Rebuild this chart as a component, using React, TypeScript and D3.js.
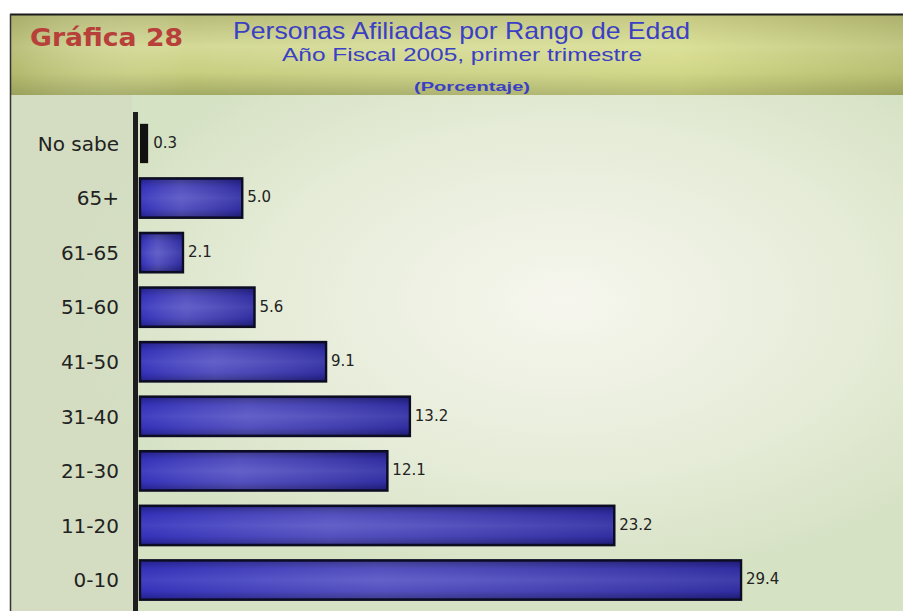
import React from "react";
import * as d3 from "d3";

const categories = ["No sabe", "65+", "61-65", "51-60", "41-50", "31-40", "21-30", "11-20", "0-10"];
const values = [0.3, 5.0, 2.1, 5.6, 9.1, 13.2, 12.1, 23.2, 29.4];
const valueLabels = ["0.3", "5.0", "2.1", "5.6", "9.1", "13.2", "12.1", "23.2", "29.4"];
const titleLines = ["Personas Afiliadas por Rango de Edad", "Año Fiscal 2005, primer trimestre", "(Porcentaje)"];
const chartTag = "Gráfica 28";

const W = 903;
const H = 611;

export default function App() {
  const x = d3.scaleLinear().domain([0, 29.4]).range([140, 741]);
  const y = d3.scaleBand<string>().domain(categories).range([116.2, 607.3]).paddingInner(0.28).paddingOuter(0.14);
  const font = "Verdana, 'DejaVu Sans', sans-serif";
  const narrow = "'Liberation Sans', Arial, sans-serif";
  return (
    <svg width={W} height={H} style={{ position: "absolute", left: 0, top: 0, display: "block" }}>
      <defs>
        <linearGradient id="hdr" x1="0" y1="0" x2="0" y2="1">
          <stop offset="0" stopColor="#b7bb78" />
          <stop offset="0.4" stopColor="#d4da96" />
          <stop offset="0.72" stopColor="#c8cf80" />
          <stop offset="1" stopColor="#a2a962" />
        </linearGradient>
        <linearGradient id="hdrH" x1="0" y1="0" x2="1" y2="0">
          <stop offset="0" stopColor="#8a8f48" stopOpacity="0.35" />
          <stop offset="0.2" stopColor="#ffffff" stopOpacity="0" />
          <stop offset="0.75" stopColor="#f0f2a0" stopOpacity="0.25" />
          <stop offset="1" stopColor="#8a8f48" stopOpacity="0.25" />
        </linearGradient>
        <radialGradient id="glow" cx="0.62" cy="0.4" r="0.55">
          <stop offset="0" stopColor="#f6f6ee" />
          <stop offset="0.6" stopColor="#e6ecd8" />
          <stop offset="1" stopColor="#d6e2c4" />
        </radialGradient>
        <linearGradient id="barV" x1="0" y1="0" x2="0" y2="1">
          <stop offset="0" stopColor="#1c1a6a" />
          <stop offset="0.22" stopColor="#3c38b4" />
          <stop offset="0.5" stopColor="#5250c2" />
          <stop offset="0.78" stopColor="#3c38b4" />
          <stop offset="1" stopColor="#1c1a6a" />
        </linearGradient>
        <linearGradient id="barH" x1="0" y1="0" x2="1" y2="0">
          <stop offset="0" stopColor="#2a28c0" stopOpacity="0.4" />
          <stop offset="0.4" stopColor="#8c8ad8" stopOpacity="0.3" />
          <stop offset="1" stopColor="#1e1c80" stopOpacity="0.35" />
        </linearGradient>
      </defs>
      <rect x={0} y={0} width={W} height={H} fill="#ffffff" />
      <rect x={10} y={95} width={W - 10} height={H - 95} fill="url(#glow)" />
      <rect x={10} y={95} width={122} height={H - 95} fill="#d3dcc0" opacity={0.8} />
      <rect x={10} y={14} width={W - 10} height={81} fill="url(#hdr)" />
      <rect x={10} y={14} width={W - 10} height={81} fill="url(#hdrH)" />
      <line x1={10} y1={14.5} x2={W} y2={14.5} stroke="#1a1a1a" strokeWidth={2} />
      <line x1={10.5} y1={14} x2={10.5} y2={H} stroke="#333" strokeWidth={1.5} />
      <text x={30} y={46} fontFamily={font} fontSize={25} fontWeight="bold" fill="#b8403a" textLength={153} lengthAdjust="spacingAndGlyphs">{chartTag}</text>
      <text x={233} y={39} fontFamily={narrow} fontSize={24} fill="#3b3fc4" textLength={457} lengthAdjust="spacingAndGlyphs">{titleLines[0]}</text>
      <text x={282} y={61} fontFamily={narrow} fontSize={19} fill="#3b3fc4" textLength={360} lengthAdjust="spacingAndGlyphs">{titleLines[1]}</text>
      <text x={414} y={91} fontFamily={narrow} fontSize={13} fontWeight="bold" fill="#3b3fc4" textLength={116} lengthAdjust="spacingAndGlyphs">{titleLines[2]}</text>
      {categories.map((c, i) => {
        const y0 = y(c)!;
        const bw = x(values[i]) - x(0);
        const isBlack = i === 0;
        return (
          <g key={c}>
            {isBlack ? (
              <rect x={x(0)} y={y0} width={bw + 2} height={y.bandwidth()} fill="#111" />
            ) : (
              <>
                <rect x={x(0)} y={y0} width={bw} height={y.bandwidth()} fill="url(#barV)" stroke="#0c0c22" strokeWidth={2.5} />
                <rect x={x(0) + 1.5} y={y0 + 1.5} width={bw - 3} height={y.bandwidth() - 3} fill="url(#barH)" />
              </>
            )}
            <text x={119} y={y0 + y.bandwidth() / 2} dy="0.36em" textAnchor="end" fontFamily={font} fontSize={20} fill="#222">{c}</text>
            <text x={x(values[i]) + (isBlack ? 7 : 5)} y={y0 + y.bandwidth() / 2 - 1} dy="0.36em" fontFamily={font} fontSize={15} fill="#222">{valueLabels[i]}</text>
          </g>
        );
      })}
      <rect x={133} y={112} width={5} height={H - 112} fill="#1e1e1e" />
    </svg>
  );
}
